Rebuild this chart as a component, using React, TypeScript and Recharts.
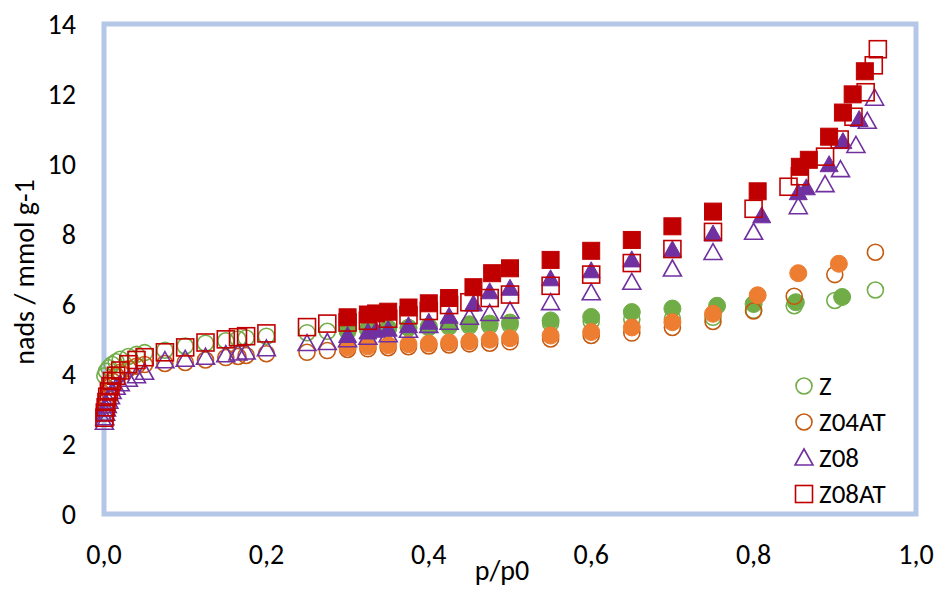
import { ScatterChart, Scatter, XAxis, YAxis, ReferenceArea, Legend } from "recharts"

// N2 isotherms: adsorption branches (open) and desorption branches (filled)
const zAdsP = [0.001, 0.003, 0.006, 0.01, 0.015, 0.02, 0.03, 0.04, 0.05, 0.075, 0.1, 0.125, 0.15, 0.165, 0.175, 0.2, 0.25, 0.275, 0.3, 0.325, 0.35, 0.375, 0.4, 0.425, 0.45, 0.475, 0.5, 0.55, 0.6, 0.65, 0.7, 0.75, 0.8, 0.85, 0.9, 0.95]
const zAdsN = [3.95, 4.08, 4.18, 4.27, 4.35, 4.42, 4.5, 4.56, 4.61, 4.68, 4.8, 4.88, 4.95, 5.0, 5.03, 5.08, 5.18, 5.22, 5.25, 5.28, 5.3, 5.32, 5.33, 5.35, 5.37, 5.38, 5.4, 5.45, 5.5, 5.56, 5.58, 5.62, 5.82, 5.95, 6.1, 6.4]
const zDesP = [0.3, 0.325, 0.35, 0.375, 0.4, 0.425, 0.45, 0.475, 0.5, 0.55, 0.6, 0.65, 0.7, 0.755, 0.8, 0.852, 0.909]
const zDesN = [5.22, 5.27, 5.3, 5.32, 5.36, 5.4, 5.42, 5.44, 5.47, 5.53, 5.63, 5.77, 5.87, 5.95, 6.0, 6.05, 6.2]

const z04AdsP = [0.001, 0.002, 0.004, 0.006, 0.008, 0.01, 0.015, 0.02, 0.03, 0.04, 0.05, 0.075, 0.1, 0.125, 0.15, 0.165, 0.175, 0.2, 0.25, 0.275, 0.3, 0.325, 0.35, 0.375, 0.4, 0.425, 0.45, 0.475, 0.5, 0.55, 0.6, 0.65, 0.7, 0.75, 0.8, 0.85, 0.9, 0.95]
const z04AdsN = [2.9, 3.1, 3.3, 3.5, 3.65, 3.8, 3.95, 4.05, 4.15, 4.22, 4.27, 4.3, 4.33, 4.4, 4.47, 4.5, 4.53, 4.58, 4.62, 4.67, 4.7, 4.72, 4.75, 4.78, 4.8, 4.83, 4.86, 4.88, 4.92, 5.0, 5.1, 5.17, 5.33, 5.5, 5.8, 6.22, 6.84, 7.48]
const z04DesP = [0.3, 0.325, 0.35, 0.375, 0.4, 0.425, 0.45, 0.475, 0.5, 0.55, 0.6, 0.65, 0.7, 0.75, 0.805, 0.855, 0.905]
const z04DesN = [4.76, 4.79, 4.82, 4.85, 4.87, 4.9, 4.93, 4.98, 5.02, 5.1, 5.2, 5.33, 5.48, 5.72, 6.25, 6.88, 7.15]

const z08AdsP = [0.0005, 0.001, 0.002, 0.003, 0.004, 0.006, 0.008, 0.01, 0.015, 0.02, 0.03, 0.04, 0.05, 0.075, 0.1, 0.125, 0.15, 0.165, 0.175, 0.2, 0.25, 0.275, 0.3, 0.325, 0.35, 0.375, 0.4, 0.425, 0.45, 0.475, 0.5, 0.55, 0.6, 0.65, 0.7, 0.75, 0.8, 0.855, 0.888, 0.907, 0.926, 0.94, 0.949]
const z08AdsN = [2.62, 2.75, 2.88, 3.0, 3.1, 3.22, 3.35, 3.5, 3.62, 3.72, 3.85, 3.95, 4.05, 4.38, 4.42, 4.48, 4.55, 4.6, 4.63, 4.72, 4.87, 4.9, 4.98, 5.05, 5.12, 5.25, 5.39, 5.48, 5.62, 5.73, 5.8, 6.04, 6.32, 6.62, 7.0, 7.47, 8.05, 8.78, 9.41, 9.84, 10.53, 11.22, 11.88]
const z08DesP = [0.3, 0.325, 0.335, 0.35, 0.375, 0.4, 0.425, 0.455, 0.475, 0.5, 0.55, 0.6, 0.65, 0.7, 0.75, 0.81, 0.855, 0.865, 0.893, 0.91, 0.93]
const z08DesN = [5.1, 5.2, 5.25, 5.28, 5.38, 5.48, 5.65, 6.0, 6.35, 6.45, 6.72, 6.95, 7.26, 7.55, 8.0, 8.52, 9.18, 9.32, 9.98, 10.64, 11.27]

const z08atAdsP = [0.0005, 0.001, 0.002, 0.003, 0.004, 0.006, 0.008, 0.01, 0.015, 0.02, 0.03, 0.04, 0.05, 0.075, 0.1, 0.125, 0.15, 0.165, 0.175, 0.2, 0.25, 0.275, 0.3, 0.325, 0.35, 0.375, 0.4, 0.425, 0.45, 0.475, 0.5, 0.55, 0.6, 0.65, 0.7, 0.75, 0.8, 0.843, 0.857, 0.888, 0.906, 0.923, 0.938, 0.948, 0.953]
const z08atAdsN = [2.75, 2.9, 3.05, 3.2, 3.35, 3.5, 3.65, 3.8, 3.95, 4.1, 4.28, 4.4, 4.48, 4.62, 4.76, 4.9, 4.99, 5.05, 5.08, 5.16, 5.34, 5.44, 5.47, 5.52, 5.58, 5.68, 5.8, 5.97, 6.05, 6.17, 6.27, 6.52, 6.84, 7.17, 7.57, 8.06, 8.72, 9.35, 9.65, 10.21, 10.7, 11.35, 12.05, 12.82, 13.28]
const z08atDesP = [0.3, 0.325, 0.335, 0.35, 0.375, 0.4, 0.425, 0.455, 0.478, 0.5, 0.55, 0.6, 0.65, 0.7, 0.75, 0.805, 0.857, 0.868, 0.893, 0.91, 0.922, 0.937]
const z08atDesN = [5.62, 5.7, 5.73, 5.78, 5.9, 6.02, 6.17, 6.48, 6.88, 7.02, 7.26, 7.52, 7.83, 8.22, 8.64, 9.22, 9.92, 10.12, 10.78, 11.47, 11.99, 12.65]

const xTicks = [0, 0.2, 0.4, 0.6, 0.8, 1]
const yTicks = [0, 2, 4, 6, 8, 10, 12, 14]

const legendNames = ["Z", "Z04AT", "Z08", "Z08AT"]

const FONT = "Carlito, Calibri, Lato, sans-serif"
const GREEN = "#70AD47"
const ORANGE = "#ED7D31"
const ORANGE_DARK = "#C55A11"
const PURPLE = "#7030A0"
const RED = "#C00000"

type Kind = "circle" | "square" | "triangle"

const zip = (p: number[], n: number[]) => p.map((x, i) => ({ p: x, n: n[i] }))

function Marker({ cx, cy, kind, color, filled }: { cx: number; cy: number; kind: Kind; color: string; filled: boolean }) {
  const fill = filled ? color : "none"
  const sw = filled ? 1 : 1.6
  if (kind === "circle") {
    return <circle cx={cx} cy={cy} r={filled ? 8.5 : 8} fill={fill} stroke={color} strokeWidth={sw} />
  }
  if (kind === "square") {
    const h = 8.5
    return <rect x={cx - h} y={cy - h} width={h * 2} height={h * 2} fill={fill} stroke={color} strokeWidth={sw} />
  }
  const pts = `${cx},${cy - 9} ${cx + 9},${cy + 7} ${cx - 9},${cy + 7}`
  return <polygon points={pts} fill={fill} stroke={color} strokeWidth={sw} strokeLinejoin="miter" />
}

const shape = (kind: Kind, color: string, filled: boolean) => (props: any) => {
  if (props.cx == null || props.cy == null) return <g />
  return <Marker cx={props.cx} cy={props.cy} kind={kind} color={color} filled={filled} />
}

const series = [
  { key: "zAds", data: zip(zAdsP, zAdsN), kind: "circle" as Kind, color: GREEN, filled: false },
  { key: "zDes", data: zip(zDesP, zDesN), kind: "circle" as Kind, color: GREEN, filled: true },
  { key: "z04Ads", data: zip(z04AdsP, z04AdsN), kind: "circle" as Kind, color: ORANGE_DARK, filled: false },
  { key: "z04Des", data: zip(z04DesP, z04DesN), kind: "circle" as Kind, color: ORANGE, filled: true },
  { key: "z08Ads", data: zip(z08AdsP, z08AdsN), kind: "triangle" as Kind, color: PURPLE, filled: false },
  { key: "z08Des", data: zip(z08DesP, z08DesN), kind: "triangle" as Kind, color: PURPLE, filled: true },
  { key: "z08atAds", data: zip(z08atAdsP, z08atAdsN), kind: "square" as Kind, color: RED, filled: false },
  { key: "z08atDes", data: zip(z08atDesP, z08atDesN), kind: "square" as Kind, color: RED, filled: true },
]

const legendItems = [
  { kind: "circle" as Kind, color: GREEN },
  { kind: "circle" as Kind, color: ORANGE_DARK },
  { kind: "triangle" as Kind, color: PURPLE },
  { kind: "square" as Kind, color: RED },
]

function LegendBox() {
  return (
    <div style={{ fontFamily: FONT, fontSize: 27, color: "#000" }}>
      {legendNames.map((name, i) => (
        <div key={name} style={{ display: "flex", alignItems: "center", height: 36 }}>
          <svg width={20} height={20} style={{ overflow: "visible" }}>
            <Marker cx={10} cy={10} kind={legendItems[i].kind} color={legendItems[i].color} filled={false} />
          </svg>
          <span style={{ marginLeft: 5, lineHeight: "36px" }}>{name}</span>
        </div>
      ))}
    </div>
  )
}

const fmt = (v: number) => v.toFixed(1).replace(".", ",")

function XTick({ x, y, payload }: any) {
  return (
    <text x={x} y={y} dy={20} textAnchor="middle" fontSize={28} fill="#000" fontFamily={FONT}>
      {fmt(payload.value)}
    </text>
  )
}

function YTick({ x, y, payload }: any) {
  return (
    <text x={x} y={y} dy={10} textAnchor="end" fontSize={28} fill="#000" fontFamily={FONT}>
      {payload.value}
    </text>
  )
}

export default function App() {
  return (
    <div style={{ position: "absolute", left: 0, top: 0, background: "#fff" }}>
      <ScatterChart
        width={941}
        height={590}
        margin={{ top: 24, right: 25, bottom: 0, left: 0 }}
        style={{ fontFamily: FONT }}
      >
        <XAxis
          type="number"
          dataKey="p"
          domain={[0, 1]}
          ticks={xTicks}
          axisLine={false}
          tickLine={false}
          tickMargin={24}
          height={76}
          tick={<XTick />}
        />
        <YAxis
          type="number"
          dataKey="n"
          domain={[0, 14]}
          ticks={yTicks}
          axisLine={false}
          tickLine={false}
          tickMargin={22}
          width={104}
          tick={<YTick />}
        />
        <ReferenceArea x1={0} x2={1} y1={0} y2={14} fill="none" stroke="#B4C7E7" strokeWidth={5} />
        {series.map((s) => (
          <Scatter
            key={s.key}
            name={s.key}
            data={s.data}
            shape={shape(s.kind, s.color, s.filled)}
            isAnimationActive={false}
            legendType="none"
          />
        ))}
        <text x={502} y={580} textAnchor="middle" fontSize={28} fill="#000" fontFamily={FONT}>
          p/p0
        </text>
        <text
          x={-272}
          y={34}
          transform="rotate(-90)"
          textAnchor="middle"
          fontSize={28}
          fill="#000"
          fontFamily={FONT}
        >
          nads / mmol g-1
        </text>
        <Legend
          content={() => <LegendBox />}
          layout="vertical"
          align="center"
          verticalAlign="middle"
          wrapperStyle={{ left: 794, top: 368, width: 130 }}
        />
      </ScatterChart>
    </div>
  )
}
